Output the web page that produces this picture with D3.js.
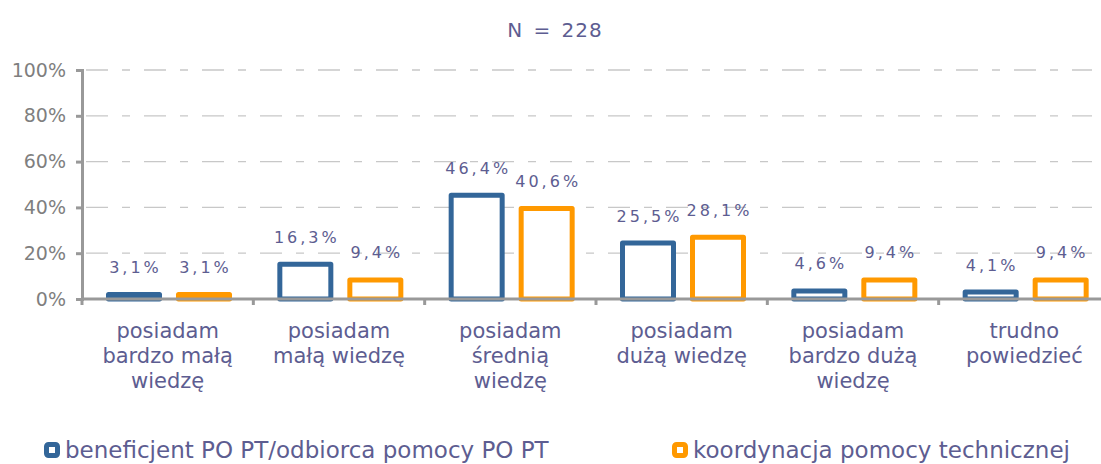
<!DOCTYPE html>
<html><head><meta charset="utf-8">
<script src="https://cdn.jsdelivr.net/npm/d3@7/dist/d3.min.js"></script>
<style>
html,body{margin:0;padding:0;background:#fff;}
svg{display:block;font-family:"DejaVu Sans",Verdana,sans-serif;}
</style></head><body>
<svg id="c" width="1101" height="464"></svg>
<script>
const categories = [
  ["posiadam","bardzo małą","wiedzę"],
  ["posiadam","małą wiedzę"],
  ["posiadam","średnią","wiedzę"],
  ["posiadam","dużą wiedzę"],
  ["posiadam","bardzo dużą","wiedzę"],
  ["trudno","powiedzieć"]
];
const seriesNames = ["beneficjent PO PT/odbiorca pomocy PO PT","koordynacja pomocy technicznej"];
const beneficjent = [3.1, 16.3, 46.4, 25.5, 4.6, 4.1];
const koordynacja = [3.1, 9.4, 40.6, 28.1, 9.4, 9.4];
const yTicks = [0, 20, 40, 60, 80, 100];
const title = "N = 228";

const colors = ["#336699", "#ff9900"];
const textColor = "#5d5d91";
const svg = d3.select("#c");

const x = d3.scaleBand().domain(d3.range(categories.length)).range([82, 1110]);
const y = d3.scaleLinear().domain([0, 100]).range([299, 70]);
const inner = d3.scaleBand().domain([0,1]).range([24, 150]).paddingInner(0.2);

// title
svg.append("text").attr("x", 555).attr("y", 37).attr("text-anchor","middle")
  .attr("fill", textColor).style("font-size","20px").style("letter-spacing","1px").style("word-spacing","3px").text(title);

// gridlines
svg.append("g").selectAll("line").data(yTicks.filter(d=>d>0)).join("line")
  .attr("x1", 86).attr("x2", 1092).attr("y1", d=>y(d)).attr("y2", d=>y(d))
  .attr("stroke","#c8c8c8").attr("stroke-width",1.3).attr("stroke-dasharray","22,14,8,14");

// y axis
const yAxis = d3.axisLeft(y).tickValues(yTicks).tickFormat(d=>d+"%").tickSize(6).tickPadding(10);
const gy = svg.append("g").attr("transform","translate(82,0)").call(yAxis);
gy.select(".domain").attr("stroke","#999").attr("stroke-width",3);
gy.selectAll(".tick line").attr("stroke","#999").attr("stroke-width",3);
gy.selectAll(".tick text").attr("fill","#7f7f7f").style("font-size","19px").style("font-family","'DejaVu Sans',Verdana,sans-serif");

// bars
const series = [beneficjent, koordynacja];
const sw = 5;
series.forEach((vals, si) => {
  const g = svg.append("g");
  g.selectAll("rect").data(vals).join("rect")
    .attr("x", (d,i)=>x(i)+inner(si)+sw/2)
    .attr("width", inner.bandwidth()-sw)
    .attr("y", d=>y(d)+sw/2)
    .attr("height", d=>Math.max(0.5, y(0)-y(d)-sw/2))
    .attr("fill","#fff").attr("stroke",colors[si]).attr("stroke-width",sw)
    .attr("stroke-linejoin","round");
  g.selectAll("text").data(vals).join("text")
    .attr("x", (d,i)=>x(i)+inner(si)+inner.bandwidth()/2+1.5)
    .attr("y", d=>y(d)-19)
    .attr("text-anchor","middle")
    .attr("fill", textColor)
    .style("font-size","16px").style("letter-spacing","3px")
    .text(d=>d.toFixed(1).replace(".",",")+"%");
});

// x axis
const xAxisLine = svg.append("g");
xAxisLine.append("line").attr("x1",82).attr("x2",1110).attr("y1",299).attr("y2",299)
  .attr("stroke","#999").attr("stroke-width",3);
xAxisLine.selectAll(".xt").data(d3.range(categories.length+1)).join("line").attr("class","xt")
  .attr("x1", i=>82 + i*x.step()).attr("x2", i=>82 + i*x.step())
  .attr("y1",299).attr("y2",305).attr("stroke","#999").attr("stroke-width",3);

// category labels
const cl = svg.append("g").selectAll("text").data(categories).join("text")
  .attr("text-anchor","middle").attr("fill",textColor).style("font-size","21px");
cl.each(function(lines, i){
  d3.select(this).selectAll("tspan").data(lines).join("tspan")
    .attr("x", x(i)+x.bandwidth()/2).attr("y", (d,j)=>338+j*25).text(d=>d);
});

// legend
const legendX = [44, 672];
seriesNames.forEach((name, si) => {
  const lg = svg.append("g").attr("transform",`translate(${legendX[si]},442)`);
  lg.append("rect").attr("x",2.5).attr("y",2.5).attr("width",11).attr("height",11)
    .attr("rx",2).attr("fill","#fff").attr("stroke",colors[si]).attr("stroke-width",5);
  lg.append("text").attr("x",21).attr("y",16).attr("fill",textColor)
    .style("font-size","23px").text(name);
});
</script>
</body></html>
